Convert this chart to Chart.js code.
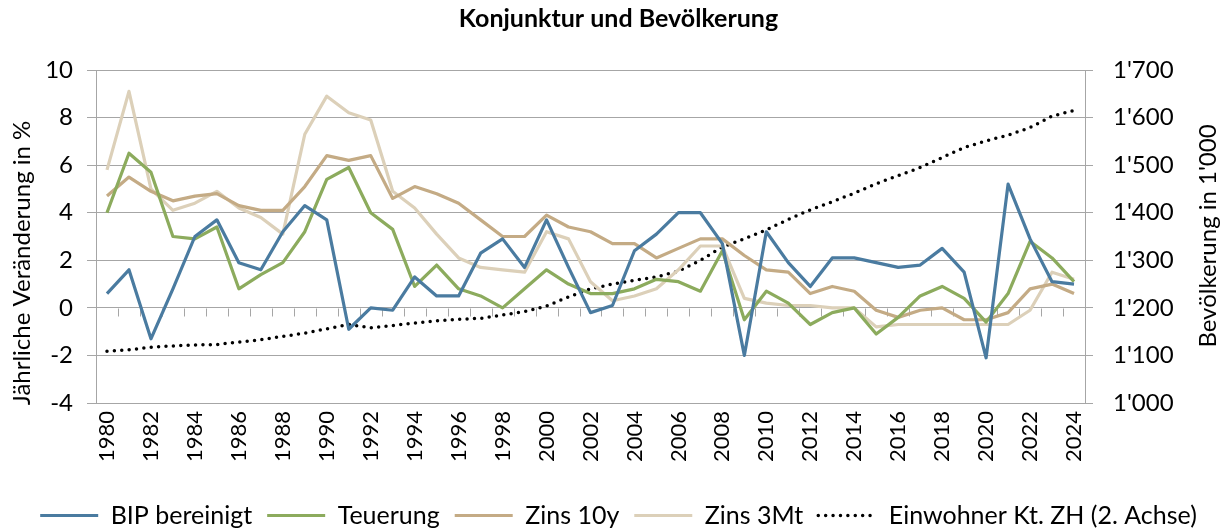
<!DOCTYPE html>
<html>
<head>
<meta charset="utf-8">
<script src="https://cdn.jsdelivr.net/npm/chart.js@4.4.1/dist/chart.umd.min.js"></script>
<style>
  body { margin: 0; background: #fff; }
  #wrap { width: 1229px; height: 532px; }
</style>
</head>
<body>
<div id="wrap"><canvas id="chart"></canvas></div>
<script>
const years = ['1980', '1981', '1982', '1983', '1984', '1985', '1986', '1987', '1988', '1989',
  '1990', '1991', '1992', '1993', '1994', '1995', '1996', '1997', '1998', '1999',
  '2000', '2001', '2002', '2003', '2004', '2005', '2006', '2007', '2008', '2009',
  '2010', '2011', '2012', '2013', '2014', '2015', '2016', '2017', '2018', '2019',
  '2020', '2021', '2022', '2023', '2024'];

// Jährliche Veränderung in %
const bip = [0.6, 1.6, -1.3, 0.8, 3.0, 3.7, 1.9, 1.6, 3.2, 4.3, 3.7, -0.9, 0.0, -0.1, 1.3, 0.5, 0.5, 2.3, 2.9, 1.7,
  3.7, 1.7, -0.2, 0.1, 2.4, 3.1, 4.0, 4.0, 2.7, -2.0, 3.2, 1.9, 0.9, 2.1, 2.1, 1.9, 1.7, 1.8, 2.5, 1.5,
  -2.1, 5.2, 2.9, 1.1, 1.0];
const teuerung = [4.0, 6.5, 5.7, 3.0, 2.9, 3.4, 0.8, 1.4, 1.9, 3.2, 5.4, 5.9, 4.0, 3.3, 0.9, 1.8, 0.8, 0.5, 0.0, 0.8,
  1.6, 1.0, 0.6, 0.6, 0.8, 1.2, 1.1, 0.7, 2.4, -0.5, 0.7, 0.2, -0.7, -0.2, 0.0, -1.1, -0.4, 0.5, 0.9, 0.4,
  -0.6, 0.6, 2.8, 2.1, 1.1];
const zins10y = [4.7, 5.5, 4.9, 4.5, 4.7, 4.8, 4.3, 4.1, 4.1, 5.1, 6.4, 6.2, 6.4, 4.6, 5.1, 4.8, 4.4, 3.7, 3.0, 3.0,
  3.9, 3.4, 3.2, 2.7, 2.7, 2.1, 2.5, 2.9, 2.9, 2.2, 1.6, 1.5, 0.6, 0.9, 0.7, -0.1, -0.4, -0.1, 0.0, -0.5,
  -0.5, -0.2, 0.8, 1.0, 0.6];
const zins3m = [5.8, 9.1, 5.0, 4.1, 4.4, 4.9, 4.2, 3.8, 3.1, 7.3, 8.9, 8.2, 7.9, 4.9, 4.2, 3.1, 2.1, 1.7, 1.6, 1.5,
  3.2, 2.9, 1.1, 0.3, 0.5, 0.8, 1.6, 2.6, 2.6, 0.4, 0.2, 0.1, 0.1, 0.0, 0.0, -0.8, -0.7, -0.7, -0.7, -0.7,
  -0.7, -0.7, -0.1, 1.5, 1.2];

// Einwohner Kt. ZH in 1'000 (2. Achse)
const einwohner = [1109, 1112, 1117, 1120, 1122, 1123, 1128, 1133, 1140, 1147, 1156, 1165, 1158, 1163, 1168, 1173,
  1176, 1178, 1185, 1192, 1204, 1223, 1240, 1250, 1258, 1265, 1277, 1300, 1328, 1345, 1364, 1386, 1406,
  1423, 1441, 1461, 1478, 1495, 1516, 1537, 1551, 1563, 1579, 1603, 1615];

const FONT = 'Lato';
const gridColor = '#a6a6a6';

function swissThousands(v) {
  const t = Math.floor(v / 1000);
  return t + "'" + String(v % 1000).padStart(3, '0');
}

// small tick marks of the category axis sitting on the 0 line, plus axis titles
const extras = {
  id: 'extras',
  beforeDatasetsDraw(chart) {
    const x = chart.scales.x, y = chart.scales.y, ctx = chart.ctx;
    const y0 = Math.round(y.getPixelForValue(0)) + 0.5;
    ctx.save();
    ctx.strokeStyle = gridColor;
    ctx.lineWidth = 1;
    ctx.beginPath();
    for (let i = 0; i <= years.length; i++) {
      const px = Math.round(x.getPixelForValue(i - 0.5)) + 0.5;
      ctx.moveTo(px, y0);
      ctx.lineTo(px, y0 + 8);
    }
    ctx.stroke();
    ctx.restore();
  },
  afterDraw(chart) {
    const ctx = chart.ctx;
    ctx.save();
    ctx.fillStyle = '#000';
    ctx.font = '24px ' + FONT;
    ctx.textAlign = 'center';
    ctx.textBaseline = 'middle';
    ctx.translate(22, 263);
    ctx.rotate(-Math.PI / 2);
    ctx.fillText('Jährliche Veränderung in %', 0, 0);
    ctx.restore();

    ctx.save();
    ctx.fillStyle = '#000';
    ctx.font = '24px ' + FONT;
    ctx.textAlign = 'center';
    ctx.textBaseline = 'middle';
    ctx.translate(1208, 236);
    ctx.rotate(-Math.PI / 2);
    ctx.fillText("Bevölkerung in 1'000", 0, 0);
    ctx.restore();
  }
};

const ctx = document.getElementById('chart');

new Chart(ctx, {
  type: 'line',
  data: {
    labels: years,
    datasets: [
      { label: 'BIP bereinigt', data: bip, borderColor: '#4a7ba0', backgroundColor: '#4a7ba0', borderWidth: 3.2, yAxisID: 'y' },
      { label: 'Teuerung', data: teuerung, borderColor: '#8cab5d', backgroundColor: '#8cab5d', borderWidth: 3.2, yAxisID: 'y' },
      { label: 'Zins 10y', data: zins10y, borderColor: '#c4ab85', backgroundColor: '#c4ab85', borderWidth: 3.2, yAxisID: 'y' },
      { label: 'Zins 3Mt', data: zins3m, borderColor: '#dcd0b9', backgroundColor: '#dcd0b9', borderWidth: 3.2, yAxisID: 'y' },
      {
        label: 'Einwohner Kt. ZH (2. Achse)', data: einwohner, borderColor: '#000', backgroundColor: '#000',
        borderWidth: 3.5, borderDash: [0, 7.4], borderCapStyle: 'round', yAxisID: 'y2'
      }
    ]
  },
  options: {
    responsive: true,
    maintainAspectRatio: false,
    animation: false,
    layout: { padding: { left: 8, right: 0, top: 0, bottom: -6 } },
    elements: {
      point: { radius: 0, hoverRadius: 0 },
      line: { tension: 0, borderJoinStyle: 'round' }
    },
    plugins: {
      title: {
        display: true,
        text: 'Konjunktur und Bevölkerung',
        color: '#000',
        font: { family: FONT, size: 25, weight: 'bold' },
        padding: { top: 4, bottom: 36 }
      },
      legend: {
        position: 'bottom',
        labels: {
          color: '#000',
          font: { family: FONT, size: 25 },
          usePointStyle: true,
          pointStyle: 'line',
          pointStyleWidth: 58,
          padding: 15,
          generateLabels(chart) {
            const items = Chart.defaults.plugins.legend.labels.generateLabels(chart);
            items.forEach(item => {
              const ds = chart.data.datasets[item.datasetIndex];
              item.lineWidth = ds.borderWidth;
              item.strokeStyle = ds.borderColor;
              item.lineDash = ds.borderDash || [];
              item.lineCap = ds.borderCapStyle || 'butt';
            });
            return items;
          }
        }
      },
      tooltip: { enabled: false }
    },
    scales: {
      x: {
        type: 'category',
        offset: true,
        grid: { display: false, drawTicks: false },
        border: { display: false },
        ticks: {
          autoSkip: false,
          maxRotation: 90,
          minRotation: 90,
          padding: 8,
          color: '#000',
          font: { family: FONT, size: 22 },
          callback: function (v, i) { return i % 2 === 0 ? years[i] : ''; }
        },
        afterFit(s) { s.height = 85; }
      },
      y: {
        position: 'left',
        min: -4,
        max: 10,
        ticks: { stepSize: 2, padding: 14, color: '#000', font: { family: FONT, size: 24 } },
        grid: { color: gridColor, tickLength: 9 },
        border: { color: gridColor },
        afterFit(s) { s.width = 88; }
      },
      y2: {
        position: 'right',
        min: 1000,
        max: 1700,
        ticks: { stepSize: 100, padding: 20, color: '#000', font: { family: FONT, size: 24 }, callback: v => swissThousands(v) },
        grid: { drawOnChartArea: false, color: gridColor, tickLength: 8 },
        border: { color: gridColor },
        afterFit(s) { s.width = 144; }
      }
    }
  },
  plugins: [extras]
});
</script>
</body>
</html>
